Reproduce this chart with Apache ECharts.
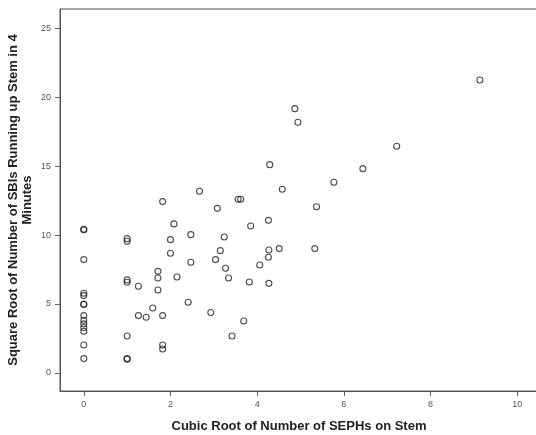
<!DOCTYPE html>
<html>
<head>
<meta charset="utf-8">
<script src="https://cdn.jsdelivr.net/npm/echarts@6/dist/echarts.min.js"></script>
<style>html,body{margin:0;padding:0;background:#fff;}#c{width:536px;height:435px;}</style>
</head>
<body>
<div id="c"></div>
<script>
// Cubic root of SEPHs (x) and square root of SBIs (y)
const xValues = [
  0,0,0,0,0,0,0,0,0,0,0,0,0,0,
  1,1,1,1,1,1,1,
  1.26,1.26,1.44,1.59,
  1.71,1.71,1.71,
  1.82,1.82,1.82,1.82,
  2.0,2.0,2.08,2.15,2.41,2.47,2.47,2.67,2.93,
  3.04,3.08,3.15,3.24,3.27,3.34,3.42,3.56,3.62,3.69,3.82,3.85,
  4.06,4.26,4.26,4.27,4.27,4.29,4.51,4.58,4.87,4.94,
  5.33,5.37,5.77,6.44,7.22,9.14
];
const yValues = [
  10.42,10.38,8.22,5.78,5.61,5.0,4.96,4.16,3.82,3.56,3.3,3.02,2.03,1.04,
  9.74,9.55,6.75,6.58,2.68,1.04,1.0,
  6.29,4.16,4.04,4.71,
  7.37,6.89,6.02,
  12.43,4.16,2.03,1.74,
  9.67,8.68,10.81,6.96,5.13,10.03,8.03,13.18,4.38,
  8.22,11.94,8.87,9.86,7.59,6.89,2.68,12.6,12.6,3.77,6.60,10.66,
  7.83,11.07,8.39,8.92,6.50,15.11,9.02,13.32,19.17,18.18,
  9.02,12.06,13.83,14.82,16.44,21.25
];
const xTicks = [0, 2, 4, 6, 8, 10];
const yTicks = [0, 5, 10, 15, 20, 25];
const xTitle = 'Cubic Root of Number of SEPHs on Stem';
const yTitle = 'Square Root of Number of SBIs Running up Stem in 4\nMinutes';

const points = xValues.map((x, i) => [x, yValues[i]]);
const chart = echarts.init(document.getElementById('c'), null, {renderer: 'canvas'});
const tickLabel = {fontFamily: 'Arial, Liberation Sans, sans-serif', fontSize: 9, color: '#555'};
chart.setOption({
  animation: false,
  backgroundColor: '#fff',
  grid: {left: 60, top: 9, right: -2, bottom: 44, show: true, borderColor: '#555', borderWidth: 1,
         containLabel: false, outerBoundsMode: 'none'},
  xAxis: {
    type: 'value', min: -0.549, max: 10.48,
    splitLine: {show: false},
    axisLine: {show: true, onZero: false, lineStyle: {color: '#555', width: 1}},
    axisTick: {show: true, length: 5, customValues: xTicks, lineStyle: {color: '#666'}},
    axisLabel: Object.assign({margin: 9, customValues: xTicks}, tickLabel),
    name: xTitle, nameLocation: 'middle', nameGap: 29, nameMoveOverlap: false,
    nameTextStyle: {fontFamily: 'Arial, Liberation Sans, sans-serif', fontSize: 13, fontWeight: 'bold', color: '#222'}
  },
  yAxis: {
    type: 'value', min: -1.31, max: 26.4,
    splitLine: {show: false},
    axisLine: {show: true, onZero: false, lineStyle: {color: '#555', width: 1}},
    axisTick: {show: true, length: 5, customValues: yTicks, lineStyle: {color: '#666'}},
    axisLabel: Object.assign({margin: 9, customValues: yTicks}, tickLabel),
    name: yTitle, nameLocation: 'middle', nameGap: 26, nameMoveOverlap: false,
    nameTextStyle: {fontFamily: 'Arial, Liberation Sans, sans-serif', fontSize: 13, fontWeight: 'bold', color: '#222', align: 'center', lineHeight: 14}
  },
  series: [{
    type: 'scatter',
    data: points,
    symbol: 'circle',
    symbolSize: 6,
    itemStyle: {color: 'rgba(0,0,0,0)', borderColor: '#222', borderWidth: 1.1},
    emphasis: {disabled: true}
  }]
});
</script>
</body>
</html>
